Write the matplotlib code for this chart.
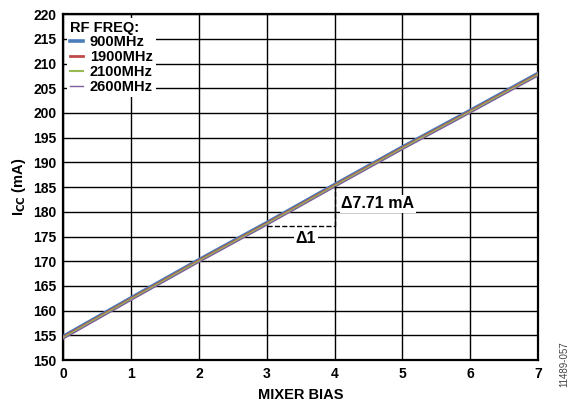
import numpy as np
import matplotlib
matplotlib.use("Agg")
import matplotlib.pyplot as plt

plt.rcParams['font.family'] = ['Liberation Sans', 'DejaVu Sans']
plt.rcParams['font.weight'] = 'bold'

# mixer bias setting vs supply current
bias = [0, 1, 2, 3, 4, 5, 6, 7]
icc_900 = [154.8, 162.6, 170.3, 177.8, 185.5, 193.1, 200.5, 208.0]
icc_1900 = [154.6, 162.4, 170.1, 177.6, 185.3, 192.9, 200.3, 207.8]
icc_2100 = [154.5, 162.3, 170.0, 177.5, 185.2, 192.8, 200.2, 207.7]
icc_2600 = [154.3, 162.1, 169.8, 177.3, 185.0, 192.6, 200.0, 207.5]

series = [
    ("900MHz", icc_900, "#4a7ebb", 2.6),
    ("1900MHz", icc_1900, "#be4b48", 2.0),
    ("2100MHz", icc_2100, "#98b954", 1.5),
    ("2600MHz", icc_2600, "#7d60a0", 1.0),
]

fig = plt.figure(figsize=(5.71, 4.05), dpi=100)
ax = fig.add_axes([0.111, 0.111, 0.831, 0.854])

for name, vals, col, lw in series:
    ax.plot(bias, vals, color=col, lw=lw, label=name, zorder=3)

ax.set_xlim(0, 7)
ax.set_ylim(150, 220)
ax.set_xticks(range(0, 8))
ax.set_yticks(range(150, 221, 5))
ax.grid(True, color='black', lw=1.0)
ax.tick_params(length=0, labelsize=10, pad=5)
for lab in ax.get_xticklabels() + ax.get_yticklabels():
    lab.set_fontweight('bold')
for sp in ax.spines.values():
    sp.set_linewidth(1.6)

ax.set_xlabel("MIXER BIAS", fontsize=10.5, fontweight='bold', labelpad=5)
ax.set_ylabel(r"I$_{\mathbf{CC}}$ (mA)", fontsize=10.5, fontweight='bold', labelpad=4)

# delta annotation
ax.plot([3, 4], [177.1, 177.1], ls='--', color='black', lw=1.0, zorder=4)
ax.plot([4, 4], [177.1, 185.3], ls='--', color='black', lw=1.0, zorder=4)
ax.text(4.1, 181.6, "Δ7.71 mA", fontsize=11.5, fontweight='bold', va='center', ha='left',
        bbox=dict(facecolor='white', edgecolor='none', pad=1), zorder=5)
ax.text(3.58, 174.6, "Δ1", fontsize=11.5, fontweight='bold', va='center', ha='center',
        bbox=dict(facecolor='white', edgecolor='none', pad=1), zorder=5)

leg = ax.legend(title="RF FREQ:", loc='upper left', frameon=True, fancybox=False,
                fontsize=10.5, handlelength=0.9, handletextpad=0.45, labelspacing=0.05,
                borderaxespad=0.25, borderpad=0.2)
leg.get_frame().set_edgecolor('none')
leg.get_frame().set_alpha(1)
plt.setp(leg.get_title(), fontweight='bold', fontsize=10.5)
leg._legend_box.align = 'left'
for t in leg.get_texts():
    t.set_fontweight('bold')
leg.set_zorder(6)

fig.text(0.989, 0.1, "11489-057", rotation=90, fontsize=7, color='#444444',
         fontweight='normal', ha='center', va='center')

fig.savefig("out.png", dpi=100)
